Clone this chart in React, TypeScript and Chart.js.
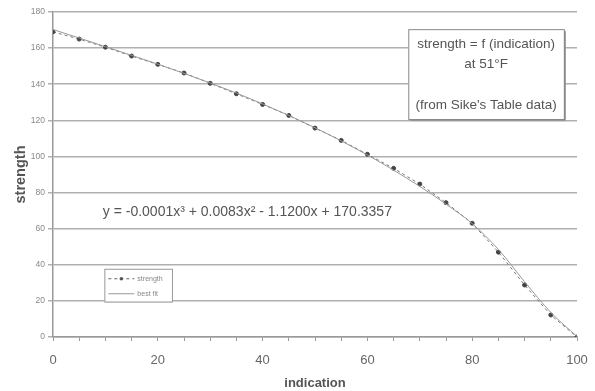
import React, { useEffect, useRef } from "react";
import { Chart, registerables } from "chart.js";

Chart.register(...registerables);

const indication = [0, 5, 10, 15, 20, 25, 30, 35, 40, 45, 50, 55, 60, 65, 70, 75, 80, 85, 90, 95, 100];
const strength = [169, 165, 160.5, 155.6, 151, 146.2, 140.5, 134.7, 128.8, 122.7, 115.7, 108.9, 101.2, 93.4, 84.7, 74.4, 63, 47, 28.8, 12.2, 0];
const bestFit = [170.3, 165.6, 160.8, 156.0, 151.1, 146.0, 140.7, 135.1, 129.1, 122.7, 115.9, 108.6, 100.8, 92.4, 83.4, 73.6, 62.8, 48.5, 30.6, 13.6, 0.3];
const yTicks = [0, 20, 40, 60, 80, 100, 120, 140, 160, 180];
const xLabels = [0, 20, 40, 60, 80, 100];
const legendLabels = ["strength", "best fit"];
const infoLines = ["strength = f (indication)", "at 51°F", "", "(from Sike's Table data)"];
const equation = "y = -0.0001x³ + 0.0083x² - 1.1200x + 170.3357";

const FONT = "'Liberation Sans', Arial, sans-serif";
const TEXT = "#555";
const GRID = "#b0b0b0";

const overlay = {
  id: "overlay",
  afterDraw(chart: any) {
    const ctx = chart.ctx as CanvasRenderingContext2D;
    const xs = chart.scales.x;
    const ys = chart.scales.y;
    ctx.save();

    // info box
    const bx1 = xs.getPixelForValue(67.8), bx2 = xs.getPixelForValue(97.5);
    const by1 = ys.getPixelForValue(170.5), by2 = ys.getPixelForValue(120.7);
    ctx.fillStyle = "#999";
    ctx.fillRect(bx1 + 2, by1 + 2, bx2 - bx1, by2 - by1);
    ctx.fillStyle = "#fff";
    ctx.fillRect(bx1, by1, bx2 - bx1, by2 - by1);
    ctx.strokeStyle = "#888";
    ctx.lineWidth = 1;
    ctx.strokeRect(bx1 + 0.5, by1 + 0.5, bx2 - bx1, by2 - by1);
    ctx.fillStyle = TEXT;
    ctx.font = `13.5px ${FONT}`;
    ctx.textAlign = "center";
    ctx.textBaseline = "middle";
    const cx = (bx1 + bx2) / 2;
    infoLines.forEach((l, i) => {
      ctx.fillText(l, cx, by1 + 15 + i * 20.5);
    });

    // equation
    ctx.font = `14px ${FONT}`;
    ctx.textAlign = "left";
    ctx.fillText(equation, xs.getPixelForValue(9.5), ys.getPixelForValue(69));

    // legend box
    const lx1 = xs.getPixelForValue(9.8), lx2 = xs.getPixelForValue(22.7);
    const ly1 = ys.getPixelForValue(37.8), ly2 = ys.getPixelForValue(19.6);
    ctx.fillStyle = "#fff";
    ctx.fillRect(lx1, ly1, lx2 - lx1, ly2 - ly1);
    ctx.strokeStyle = "#999";
    ctx.strokeRect(lx1 + 0.5, ly1 + 0.5, lx2 - lx1, ly2 - ly1);
    const row1 = ly1 + 10, row2 = ly1 + 25;
    ctx.strokeStyle = "#666";
    ctx.setLineDash([3, 3]);
    ctx.beginPath();
    ctx.moveTo(lx1 + 4, row1);
    ctx.lineTo(lx1 + 30, row1);
    ctx.stroke();
    ctx.setLineDash([]);
    ctx.fillStyle = "#555";
    ctx.beginPath();
    ctx.arc(lx1 + 17, row1, 1.8, 0, Math.PI * 2);
    ctx.fill();
    ctx.strokeStyle = "#999";
    ctx.beginPath();
    ctx.moveTo(lx1 + 4, row2);
    ctx.lineTo(lx1 + 30, row2);
    ctx.stroke();
    ctx.fillStyle = "#888";
    ctx.font = `7px ${FONT}`;
    ctx.fillText(legendLabels[0], lx1 + 33, row1);
    ctx.fillText(legendLabels[1], lx1 + 33, row2);
    ctx.restore();
  },
};

export default function App() {
  const ref = useRef<HTMLCanvasElement>(null);
  useEffect(() => {
    if (!ref.current) return;
    const chart = new Chart(ref.current, {
      type: "line",
      data: {
        datasets: [
          {
            label: legendLabels[1],
            data: indication.map((x, i) => ({ x, y: bestFit[i] })),
            borderColor: "#999",
            borderWidth: 1,
            pointRadius: 0,
            cubicInterpolationMode: "monotone",
          },
          {
            label: legendLabels[0],
            data: indication.map((x, i) => ({ x, y: strength[i] })),
            borderColor: "#777",
            borderWidth: 1,
            borderDash: [3, 3],
            pointRadius: 2,
            pointBackgroundColor: "#444",
            pointBorderColor: "#444",
          },
        ],
      },
      options: {
        animation: false,
        responsive: false,
        layout: { padding: { top: 12, right: 18, left: 0, bottom: 0 } },
        plugins: { legend: { display: false }, tooltip: { enabled: false } },
        scales: {
          x: {
            type: "linear",
            min: 0,
            max: 100,
            afterBuildTicks: (s: any) => {
              s.ticks = indication.map((v) => ({ value: v }));
            },
            afterFit: (s: any) => {
              s.height = 54;
              s.paddingLeft = 0;
              s.paddingRight = 0;
            },
            ticks: {
              autoSkip: false,
              maxRotation: 0,
              padding: 12,
              color: "#666",
              font: { family: FONT, size: 13 },
              callback: (v: any) => (xLabels.includes(Number(v)) ? String(v) : ""),
            },
            grid: { drawOnChartArea: false, tickLength: 4, color: "#999" },
            border: { color: "#999", width: 1.5 },
            title: {
              display: true,
              text: "indication",
              color: TEXT,
              font: { family: FONT, size: 13, weight: "bold" },
              padding: { top: 2, bottom: 0 },
            },
          },
          y: {
            min: 0,
            max: 180,
            afterBuildTicks: (s: any) => {
              s.ticks = yTicks.map((v) => ({ value: v }));
            },
            afterFit: (s: any) => {
              s.width = 53;
              s.paddingTop = 0;
              s.paddingBottom = 0;
            },
            ticks: {
              padding: 3,
              color: "#888",
              font: { family: FONT, size: 8.5 },
            },
            grid: { color: GRID, lineWidth: 1.5, tickLength: 5 },
            border: { color: "#999", width: 1.5 },
            title: {
              display: true,
              text: "strength",
              color: TEXT,
              font: { family: FONT, size: 14.5, weight: "bold" },
              padding: { top: 12, bottom: 0 },
            },
          },
        },
      },
      plugins: [overlay],
    } as any);
    return () => chart.destroy();
  }, []);
  return (
    <div style={{ position: "fixed", left: 0, top: 0, width: 595, height: 391, background: "#fff" }}>
      <canvas ref={ref} width={595} height={391} style={{ width: 595, height: 391, display: "block" }} />
    </div>
  );
}
